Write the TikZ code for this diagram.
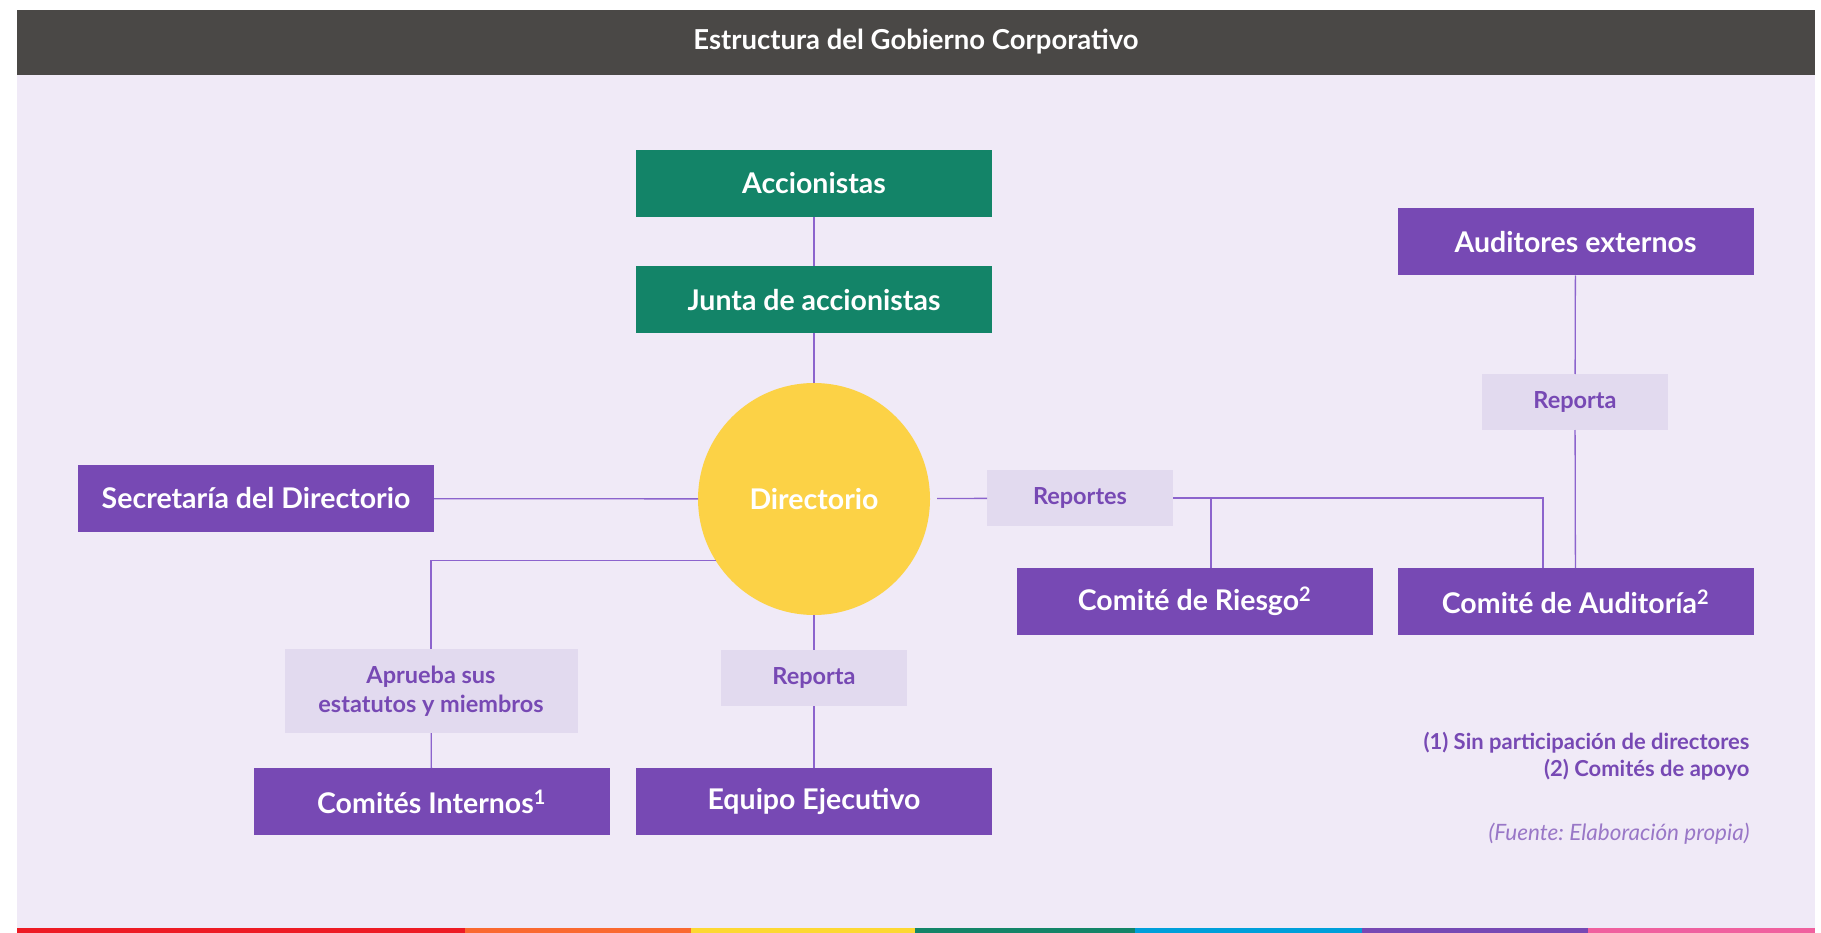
\documentclass[tikz,border=0pt]{standalone}
\usepackage{fontspec}
\setmainfont{Lato}
\frenchspacing
\usetikzlibrary{positioning}
\definecolor{hdr}{RGB}{74,72,70}
\definecolor{bgl}{RGB}{240,234,247}
\definecolor{grn}{RGB}{19,132,104}
\definecolor{prp}{RGB}{119,73,180}
\definecolor{lbl}{RGB}{226,218,239}
\definecolor{ylw}{RGB}{252,210,70}
\definecolor{lne}{RGB}{140,100,205}
\definecolor{bred}{RGB}{237,27,36}
\definecolor{borg}{RGB}{250,105,48}
\definecolor{bylw}{RGB}{253,216,50}
\definecolor{bblu}{RGB}{0,159,218}
\definecolor{bpnk}{RGB}{240,96,158}

\begin{document}
\begin{tikzpicture}[x=1pt,y=-1pt,
  box/.style={fill=prp,text=white,minimum width=356pt,minimum height=67pt,inner sep=0pt,outer sep=0pt,font=\fontsize{28.5}{32}\selectfont\bfseries},
  gbox/.style={box,fill=grn},
  tag/.style={fill=lbl,text=prp,minimum width=186pt,minimum height=56pt,inner sep=0pt,outer sep=0pt,align=center,font=\fontsize{23.5}{29}\selectfont\bfseries},
  conn/.style={draw=lne,line width=1.3pt}]
  \useasboundingbox (0,0) rectangle (1821,933);
  \fill[white] (0,0) rectangle (1821,933);
  % frame
  \fill[bgl] (17,75) rectangle (1815,928);
  \fill[hdr] (17,10) rectangle (1815,75);
  \node[text=white,font=\fontsize{27.5}{31}\selectfont\bfseries] (title) at (916,42) {Estructura del Gobierno Corporativo};
  % color bar
  \fill[bred] (17,928) rectangle (465,933);
  \fill[borg] (465,928) rectangle (691,933);
  \fill[bylw] (691,928) rectangle (915,933);
  \fill[grn] (915,928) rectangle (1135,933);
  \fill[bblu] (1135,928) rectangle (1362,933);
  \fill[prp] (1362,928) rectangle (1588,933);
  \fill[bpnk] (1588,928) rectangle (1815,933);
  % nodes
  \node[gbox] (acc) at (814,183.5) {Accionistas};
  \node[gbox] (junta) at (814,300) {Junta de accionistas};
  \node[circle,fill=ylw,text=white,minimum size=232pt,inner sep=0pt,outer sep=0pt,font=\fontsize{28.5}{32}\selectfont\bfseries] (dir) at (814,499) {Directorio};
  \node[box] (sec) at (256,498.5) {Secretaría del Directorio};
  \node[tag] (rep1) at (1080,498) {Reportes};
  \node[box] (rie) at (1194.5,601.5) {Comité de Riesgo\textsuperscript{2}};
  \node[box] (aud) at (1575.5,601.5) {Comité de Auditoría\textsuperscript{2}};
  \node[box] (ext) at (1575.5,242) {Auditores externos};
  \node[tag] (rep2) at (1575,402) {Reporta};
  \node[tag,minimum width=293pt,minimum height=84pt] (apr) at (431,691) {Aprueba sus\\estatutos y miembros};
  \node[tag] (rep3) at (814,678) {Reporta};
  \node[box] (cint) at (431.5,801.5) {Comités Internos\textsuperscript{1}};
  \node[box] (equ) at (814,801.5) {Equipo Ejecutivo};
  \node[anchor=east,align=right,text=prp,font=\fontsize{22}{27}\selectfont\bfseries] (notas) at (1753,756) {(1) Sin participación de directores\\(2) Comités de apoyo};
  \node[anchor=east,text=prp!75,font=\fontsize{22.5}{26}\selectfont\itshape] (fuente) at (1753,834) {(Fuente: Elaboración propia)};
  % connectors
  \coordinate (jr) at (1211,498);
  \coordinate (ja) at (1543,498);
  \draw[conn] (acc) -- (junta);
  \draw[conn] (junta) -- (dir);
  \draw[conn] (sec) -- (dir);
  \draw[conn,shorten <=7pt] (dir) -- (rep1);
  \draw[conn] (rep1.east) -- (ja) -- (ja |- aud.north);
  \draw[conn] (jr) -- (jr |- rie.north);
  \draw[conn] (ext) -- (rep2);
  \draw[conn] (rep2) -- (aud);
  \draw[conn] (dir.212) -| (apr.north);
  \draw[conn] (apr) -- (cint);
  \draw[conn] (dir) -- (rep3);
  \draw[conn] (rep3) -- (equ);
\end{tikzpicture}
\end{document}
